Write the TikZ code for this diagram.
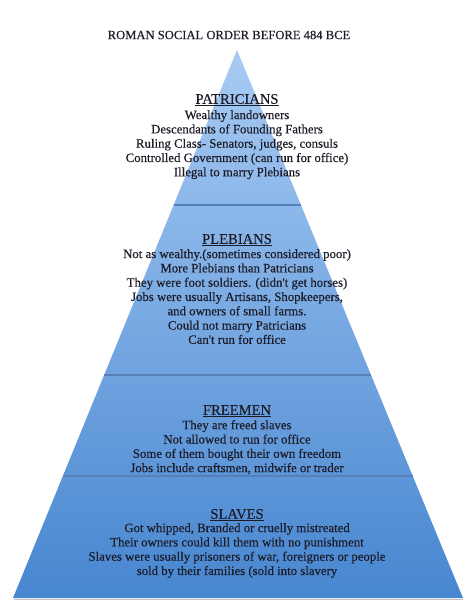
\documentclass[tikz,border=0pt]{standalone}
\usepackage{fontspec}
\setmainfont{Liberation Serif}
\newfontfamily\inkfont[FakeBold=0.35]{Liberation Serif}
\usetikzlibrary{calc}
\definecolor{pyrtop}{HTML}{A8CBF4}
\definecolor{pyrbot}{HTML}{4786D0}
\definecolor{sepline}{HTML}{5580B8}
\definecolor{inktext}{HTML}{1C1C28}
\begin{document}
\begin{tikzpicture}[x=1pt,y=-1pt,
  heading/.style={font=\inkfont\fontsize{14.6}{17}\selectfont, text=inktext, inner sep=0pt},
  body/.style={font=\inkfont\fontsize{12.8}{14.3}\selectfont, text=inktext, align=center, inner sep=0pt},
  titletext/.style={font=\inkfont\fontsize{12.6}{14}\selectfont, text=inktext, inner sep=0pt},
  separator/.style={draw=sepline, line width=1.8pt},
  shadowline/.style={draw=black!25, line width=1.2pt}
]
\useasboundingbox (0,0) rectangle (474,604);
\fill[white] (0,0) rectangle (474,604);
% pyramid corners
\coordinate (apex) at (237,50);
\coordinate (bl) at (13,598);
\coordinate (br) at (463,598);
% shadow under base
\draw[shadowline] ($(bl)+(1,1.5)$) -- ($(br)+(0,1.5)$);
% body
\shade[top color=pyrtop, bottom color=pyrbot] (apex) -- (br) -- (bl) -- cycle;
% separators
\foreach \yy in {205,375,476} {
  \draw[separator] ($(apex)!{(\yy-50)/548}!(bl)$) -- ($(apex)!{(\yy-50)/548}!(br)$);
}
% title
\node[titletext] (title) at (229,35) {ROMAN SOCIAL ORDER BEFORE 484 BCE};
% patricians
\node[heading] (pat) at (237,100) {\underline{PATRICIANS}};
\node[body, anchor=north] (patb) at (237,110) {Wealthy landowners\\Descendants of Founding Fathers\\Ruling Class- Senators, judges, consuls\\Controlled Government (can run for office)\\Illegal to marry Plebians};
% plebians
\node[heading] (ple) at (237,240) {\underline{PLEBIANS}};
\node[body, anchor=north] (pleb) at (237,249) {Not as wealthy.(sometimes considered poor)\\More Plebians than Patricians\\They were foot soldiers. (didn't get horses)\\Jobs were usually Artisans, Shopkeepers,\\and owners of small farms.\\Could not marry Patricians\\Can't run for office};
% freemen
\node[heading] (fre) at (237,411) {\underline{FREEMEN}};
\node[body, anchor=north] (freb) at (237,420) {They are freed slaves\\Not allowed to run for office\\Some of them bought their own freedom\\Jobs include craftsmen, midwife or trader};
% slaves
\node[heading] (sla) at (237,515) {\underline{SLAVES}};
\node[body, anchor=north] (slab) at (237,523) {Got whipped, Branded or cruelly mistreated\\Their owners could kill them with no punishment\\Slaves were usually prisoners of war, foreigners or people\\sold by their families (sold into slavery};
\end{tikzpicture}
\end{document}
